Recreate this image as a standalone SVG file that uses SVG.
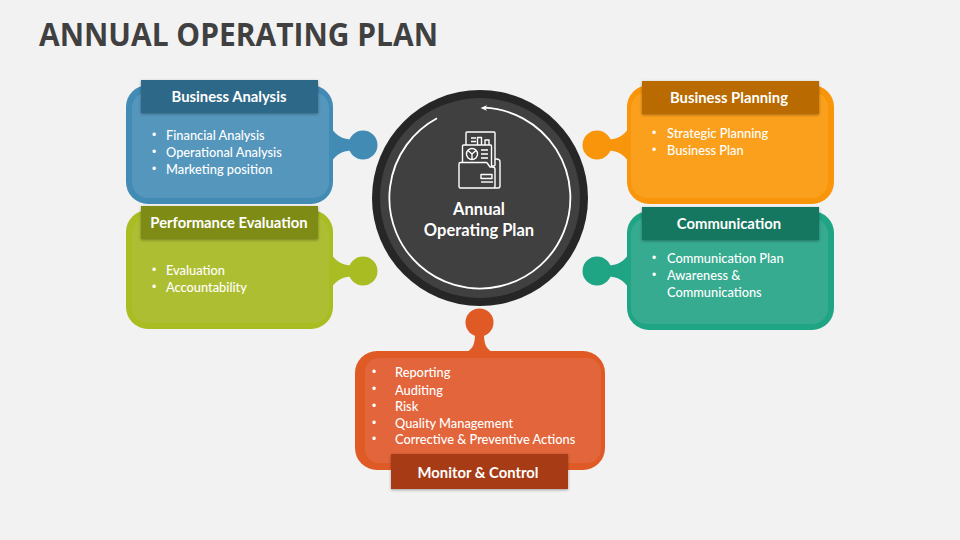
<svg xmlns="http://www.w3.org/2000/svg" width="960" height="540" viewBox="0 0 960 540">
<style>
text{font-family:Lato,"Liberation Sans",sans-serif;fill:#fff}
.title{font-family:"Open Sans","Liberation Sans",sans-serif;font-weight:700;font-size:33px;fill:#404040}
.h{font-weight:700;font-size:14.8px;text-anchor:middle}
.b{font-weight:500;font-size:12.8px}
.d{font-family:"Liberation Sans",sans-serif;font-size:12px}
.c{font-weight:700;font-size:16.5px;text-anchor:middle}
.ic{fill:none;stroke:#fff;stroke-width:1.4;stroke-linejoin:round}
.ib{fill:#404040;stroke:#fff;stroke-width:1.4;stroke-linejoin:round}
.blue .o{fill:#428BB5}.blue .i{fill:#5596BD}.blue .t{fill:#2F6888}
.orange .o{fill:#F9950A}.orange .i{fill:#FBA01C}.orange .t{fill:#B96A00}
.olive .o{fill:#A9BC22}.olive .i{fill:#AEBE33}.olive .t{fill:#7E8C14}
.teal .o{fill:#1FA484}.teal .i{fill:#36AB8F}.teal .t{fill:#167760}
.red .o{fill:#E05A26}.red .i{fill:#E2653B}.red .t{fill:#A63A14}
</style>
<defs>
<filter id="sh" x="-10%" y="-30%" width="120%" height="170%"><feDropShadow dx="0" dy="1" stdDeviation="1.5" flood-color="#000" flood-opacity=".35"/></filter>
</defs>
<rect width="960" height="540" fill="#F2F2F2"/>
<text class="title" x="39" y="46" textLength="399" lengthAdjust="spacingAndGlyphs">ANNUAL OPERATING PLAN</text>

<g id="connectors"></g>

<g id="business-analysis" class="blue">
<rect class="o" x="126" y="85" width="207" height="119" rx="22"/>
<path class="o" d="M331 128C337 136 343 139.500 352 139.500L352 150.500C343 150.500 337 154 331 162Z"/>
<circle class="o" cx="363" cy="145" r="14.500"/>
<rect class="i" x="132" y="92" width="197" height="106" rx="16"/>
<rect class="t" x="141" y="80" width="177" height="33" filter="url(#sh)"/>
<text class="h" x="229" y="102">Business Analysis</text>
<text class="d" x="152" y="139">•</text><text class="b" x="166" y="140">Financial Analysis</text>
<text class="d" x="152" y="156">•</text><text class="b" x="166" y="157">Operational Analysis</text>
<text class="d" x="152" y="173">•</text><text class="b" x="166" y="174">Marketing position</text>
</g>

<g id="performance-evaluation" class="olive">
<rect class="o" x="126" y="210" width="207" height="119" rx="22"/>
<path class="o" d="M331 254C337 262 343 265.500 352 265.500L352 276.500C343 276.500 337 280 331 288Z"/>
<circle class="o" cx="363" cy="271" r="14.500"/>
<rect class="i" x="132" y="217" width="197" height="106" rx="16"/>
<rect class="t" x="141" y="206" width="177" height="33" filter="url(#sh)"/>
<text class="h" x="229" y="228">Performance Evaluation</text>
<text class="d" x="152" y="274">•</text><text class="b" x="166" y="275">Evaluation</text>
<text class="d" x="152" y="291">•</text><text class="b" x="166" y="292">Accountability</text>
</g>

<g id="business-planning" class="orange">
<rect class="o" x="627" y="85" width="207" height="119" rx="22"/>
<path class="o" d="M629 128C623 136 617 139.500 608 139.500L608 150.500C617 150.500 623 154 629 162Z"/>
<circle class="o" cx="597" cy="145" r="14.500"/>
<rect class="i" x="631" y="92" width="197" height="106" rx="16"/>
<rect class="t" x="642" y="81" width="177" height="33" filter="url(#sh)"/>
<text class="h" x="729" y="103">Business Planning</text>
<text class="d" x="652" y="137">•</text><text class="b" x="667" y="138">Strategic Planning</text>
<text class="d" x="652" y="154">•</text><text class="b" x="667" y="155">Business Plan</text>
</g>

<g id="communication" class="teal">
<rect class="o" x="627" y="211" width="207" height="119" rx="22"/>
<path class="o" d="M629 254C623 262 617 265.500 608 265.500L608 276.500C617 276.500 623 280 629 288Z"/>
<circle class="o" cx="597" cy="271" r="14.500"/>
<rect class="i" x="631" y="218" width="197" height="106" rx="16"/>
<rect class="t" x="642" y="207" width="177" height="33" filter="url(#sh)"/>
<text class="h" x="729" y="229">Communication</text>
<text class="d" x="652" y="262">•</text><text class="b" x="667" y="263">Communication Plan</text>
<text class="d" x="652" y="279">•</text><text class="b" x="667" y="280">Awareness &amp;</text>
<text class="b" x="667" y="297">Communications</text>
</g>

<g id="monitor-control" class="red">
<rect class="o" x="355" y="351" width="250" height="119" rx="22"/>
<path class="o" d="M465 353C471 350 475 347 475 334L484 334C484 347 488 350 494 353Z"/>
<circle class="o" cx="479.500" cy="322.500" r="14"/>
<rect class="i" x="365" y="358" width="236" height="105" rx="14"/>
<rect class="t" x="391" y="454" width="177" height="35" filter="url(#sh)"/>
<text class="h" x="478" y="478">Monitor &amp; Control</text>
<text class="d" x="372" y="376">•</text><text class="b" x="395" y="377">Reporting</text>
<text class="d" x="372" y="393">•</text><text class="b" x="395" y="395">Auditing</text>
<text class="d" x="372" y="410">•</text><text class="b" x="395" y="411">Risk</text>
<text class="d" x="372" y="427">•</text><text class="b" x="395" y="428">Quality Management</text>
<text class="d" x="372" y="443">•</text><text class="b" x="395" y="444">Corrective &amp; Preventive Actions</text>
</g>

<g id="center">
<circle cx="480" cy="198" r="108" fill="#262626"/>
<circle cx="480" cy="198" r="100" fill="#404040"/>
<path d="M484 107.600A90.500 90.500 0 1 1 437 118.300" fill="none" stroke="#fff" stroke-width="1.800"/>
<path d="M480.500 108L487 105.200L485.500 108.300L487 110.800Z" fill="#fff"/>
<g id="icon">
<rect class="ic" x="466" y="132" width="29" height="34" rx="1"/>
<path class="ic" d="M471 138h5M471 141.500h5M477.500 147V137.500h4V147M485 147V140h4v7"/>
<rect class="ib" x="462.500" y="145" width="29" height="30" rx="1"/>
<circle class="ic" cx="472" cy="154" r="5.500"/>
<path class="ic" d="M468 150.500L472 154L476 150.500M472 154V159.500M481 150h7M481 154h7M481 158h7"/>
<path class="ic" d="M495 159h1.500q3.500 0 3.500 3V186q0 2-2 2h-4"/>
<path class="ib" d="M459 164q0-1.500 1.500-1.500H486q1 0 1.500 1L490 167h2q3 0 3 2V186q0 2-2 2H460.500q-1.500 0-1.500-1.500Z"/>
<rect class="ic" x="481" y="174.500" width="11" height="4"/>
<path class="ic" d="M481 182H493"/>
</g>
<text class="c" x="479" y="215">Annual</text>
<text class="c" x="479" y="236">Operating Plan</text>
</g>
</svg>
